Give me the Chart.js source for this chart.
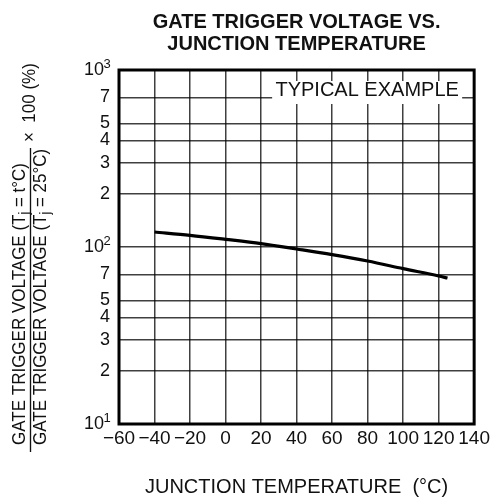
<!DOCTYPE html>
<html>
<head>
<meta charset="utf-8">
<script src="https://cdn.jsdelivr.net/npm/chart.js@4.4.1/dist/chart.umd.min.js"></script>
<style>
  html, body { margin: 0; padding: 0; background: #fff; }
  #wrap { width: 493px; height: 499px; }
</style>
</head>
<body>
<div id="wrap"><canvas id="chart" width="493" height="499"></canvas></div>
<script>
// Junction temperature (°C) and relative gate trigger voltage (%)
const tempC = [-40, -20, 0, 20, 40, 60, 80, 100, 120, 125];
const ratioPct = [121.5, 116.4, 110.5, 104.5, 97.4, 90.5, 83.3, 75.5, 68.6, 66.8];

// Axis ticks
const xTickValues = [-60, -40, -20, 0, 20, 40, 60, 80, 100, 120, 140];
const xTickLabels = ['\u221260', '\u221240', '\u221220', '0', '20', '40', '60', '80', '100', '120', '140'];
const yTickValues = [10, 20, 30, 40, 50, 70, 100, 200, 300, 400, 500, 700, 1000];
const yTickLabels = ['10', '2', '3', '4', '5', '7', '10', '2', '3', '4', '5', '7', '10'];
const yTickExps = ['1', '', '', '', '', '', '2', '', '', '', '', '', '3'];

const titleLines = ['GATE TRIGGER VOLTAGE VS.', 'JUNCTION TEMPERATURE'];
const xTitle = 'JUNCTION TEMPERATURE  (\u00b0C)';
const noteText = 'TYPICAL EXAMPLE';

const FONT = "'Liberation Sans', Arial, sans-serif";
const SUP_GAP = '\u2004';

// draws text made of segments, some of them subscripts
function drawSegments(ctx, segs, x, y, size) {
    let cx = x;
    segs.forEach(s => {
        const sz = s.sub ? size * 0.72 : size;
        ctx.font = sz + 'px ' + FONT;
        ctx.fillText(s.t, cx, s.sub ? y + size * 0.28 : y);
        cx += ctx.measureText(s.t).width;
    });
    return cx - x;
}

const decorations = {
    id: 'decorations',
    afterDatasetsDraw(chart) {
        const ctx = chart.ctx;
        const a = chart.chartArea;
        ctx.save();

        // note box on top of the grid
        const boxR = a.right - 12, boxL = boxR - 190;
        ctx.fillStyle = '#fff';
        ctx.fillRect(boxL, a.top + 11, boxR - boxL, 23);
        ctx.fillStyle = '#111';
        ctx.font = '20px ' + FONT;
        ctx.textAlign = 'center';
        ctx.textBaseline = 'alphabetic';
        ctx.fillText(noteText, (boxL + boxR) / 2, a.top + 26);

        // frame
        ctx.strokeStyle = '#000';
        ctx.lineWidth = 3;
        ctx.strokeRect(a.left, a.top, a.right - a.left, a.bottom - a.top);
        ctx.restore();
    },
    afterDraw(chart) {
        const ctx = chart.ctx;
        const a = chart.chartArea;
        const ys = chart.scales.y;
        ctx.save();
        ctx.fillStyle = '#111';

        // exponents on the decade labels
        ctx.font = '18px ' + FONT;
        const gap = ctx.measureText(SUP_GAP).width;
        const labelRight = a.left - ys.options.ticks.padding;
        ctx.font = '13px ' + FONT;
        ctx.textAlign = 'left';
        ctx.textBaseline = 'middle';
        yTickValues.forEach((v, i) => {
            if (!yTickExps[i]) return;
            ctx.fillText(yTickExps[i], labelRight - gap - 0.5, ys.getPixelForValue(v) - 6);
        });

        // title
        ctx.font = 'bold 20px ' + FONT;
        ctx.textAlign = 'center';
        ctx.textBaseline = 'middle';
        const cx = (a.left + a.right) / 2;
        ctx.fillText(titleLines[0], cx, 22);
        ctx.fillText(titleLines[1], cx, 44);

        // x axis title
        ctx.font = '20px ' + FONT;
        ctx.fillText(xTitle, cx, 487);

        // y axis title as a fraction, rotated
        ctx.rotate(-Math.PI / 2);
        ctx.scale(1, 1.12);
        ctx.textAlign = 'left';
        ctx.textBaseline = 'middle';
        const start = -445;
        drawSegments(ctx, [
            { t: 'GATE TRIGGER VOLTAGE (T' }, { t: 'j', sub: true }, { t: ' = t\u00b0C)' }
        ], start, 19.5 / 1.12, 17);
        drawSegments(ctx, [
            { t: 'GATE TRIGGER VOLTAGE (T' }, { t: 'j', sub: true }, { t: ' = 25\u00b0C)' }
        ], start, 40.5 / 1.12, 17);
        ctx.strokeStyle = '#111';
        ctx.lineWidth = 1.2;
        ctx.beginPath();
        ctx.moveTo(-452, 30.5 / 1.12);
        ctx.lineTo(-148, 30.5 / 1.12);
        ctx.stroke();
        ctx.font = '17px ' + FONT;
        ctx.fillText('\u00d7  100 (%)', -142, 29.5 / 1.12);
        ctx.restore();
    }
};

const ctx = document.getElementById('chart').getContext('2d');
new Chart(ctx, {
    type: 'line',
    data: {
        datasets: [{
            data: tempC.map((t, i) => ({ x: t, y: ratioPct[i] })),
            borderColor: '#000',
            borderWidth: 3.2,
            pointRadius: 0,
            fill: false,
            cubicInterpolationMode: 'monotone'
        }]
    },
    options: {
        responsive: false,
        animation: false,
        layout: { padding: { top: 70, right: 18, bottom: 0, left: 0 } },
        plugins: {
            legend: { display: false },
            title: { display: false },
            tooltip: { enabled: false }
        },
        scales: {
            x: {
                type: 'linear',
                min: -60,
                max: 140,
                afterBuildTicks: s => { s.ticks = xTickValues.map(v => ({ value: v })); },
                afterFit: s => { s.height = 75; },
                ticks: {
                    autoSkip: false,
                    maxRotation: 0,
                    padding: 3,
                    color: '#111',
                    font: { family: FONT, size: 19 },
                    callback: v => xTickLabels[xTickValues.indexOf(v)]
                },
                grid: { color: 'rgba(0,0,0,0.75)', lineWidth: 1.5, drawTicks: false },
                border: { display: false }
            },
            y: {
                type: 'logarithmic',
                min: 10,
                max: 1000,
                afterBuildTicks: s => { s.ticks = yTickValues.map(v => ({ value: v })); },
                afterFit: s => { s.width = 119; },
                ticks: {
                    autoSkip: false,
                    padding: 9,
                    color: '#111',
                    font: { family: FONT, size: 18 },
                    callback: v => {
                        const i = yTickValues.indexOf(v);
                        return yTickLabels[i] + (yTickExps[i] ? SUP_GAP : '');
                    }
                },
                grid: { color: 'rgba(0,0,0,0.75)', lineWidth: 1.5, drawTicks: false },
                border: { display: false }
            }
        }
    },
    plugins: [decorations]
});
</script>
</body>
</html>
